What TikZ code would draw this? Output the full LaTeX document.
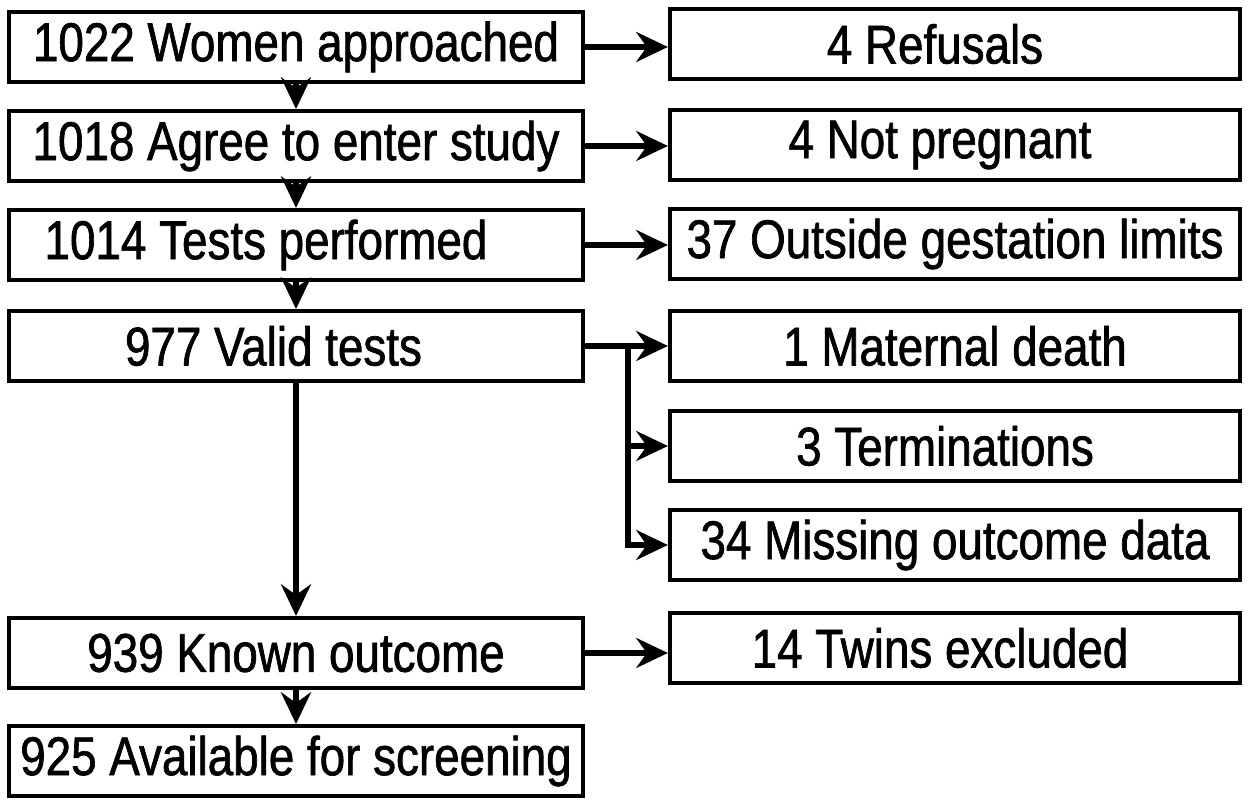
\documentclass[tikz,border=0pt]{standalone}
\usepackage{fontspec}
\setmainfont{Liberation Sans}[FakeStretch=0.84,FakeBold=1.2]
\usetikzlibrary{arrows.meta}
\tikzstyle{every edge} = [draw,line width=1.5pt,-{Stealth[length=9pt,width=8.5pt,inset=3pt]}]
\tikzstyle{flow} = [line width=1.5pt,-{Stealth[length=9pt,width=8.5pt,inset=3pt]}]
\tikzstyle{stage} = [draw,line width=1.1pt,minimum width=5.73cm,minimum height=0.7cm,inner sep=0pt,font=\fontsize{15.5}{18}\selectfont]
\tikzstyle{excl} = [stage,minimum width=5.7cm]

\begin{document}
\begin{tikzpicture}[x=0.01cm,y=-0.01cm]
\useasboundingbox (0,0) rectangle (1249,804);

\node[stage] (s1) at (296,47) {1022 Women approached};
\node[stage] (s2) at (296,146) {1018 Agree to enter study};
\node[stage] (s3) at (296,245) {1014 Tests performed\hspace*{0.6cm}};
\node[stage] (s4) at (296,346) {977 Valid tests\hspace*{0.45cm}};
\node[stage] (s5) at (296,653) {939 Known outcome};
\node[stage] (s6) at (296,761) {925 Available for screening};

\node[excl] (r1) at (955,44) {4 Refusals\hspace*{0.4cm}};
\node[excl] (r2) at (955,145) {4 Not pregnant\hspace*{0.3cm}};
\node[excl] (r3) at (955,244) {37 Outside gestation limits};
\node[excl] (r4) at (955,346) {1 Maternal death};
\node[excl] (r5) at (955,446) {3 Terminations\hspace*{0.2cm}};
\node[excl] (r6) at (955,545) {34 Missing outcome data};
\node[excl] (r7) at (955,648) {14 Twins excluded\hspace*{0.3cm}};

\coordinate (fork) at (628,346);

\draw (s1) edge (s2);
\draw (s2) edge (s3);
\draw (s3) edge (s4);
\draw (s4) edge (s5);
\draw (s5) edge (s6);

\draw (s1.east) edge (s1.east -| r1.west);
\draw (s2.east) edge (s2.east -| r2.west);
\draw (s3.east) edge (s3.east -| r3.west);
\draw (s4.east) edge (s4.east -| r4.west);
\draw[flow] (fork) |- (r5.west);
\draw[flow] (fork) |- (r6.west);
\draw (s5.east) edge (s5.east -| r7.west);

\end{tikzpicture}
\end{document}
